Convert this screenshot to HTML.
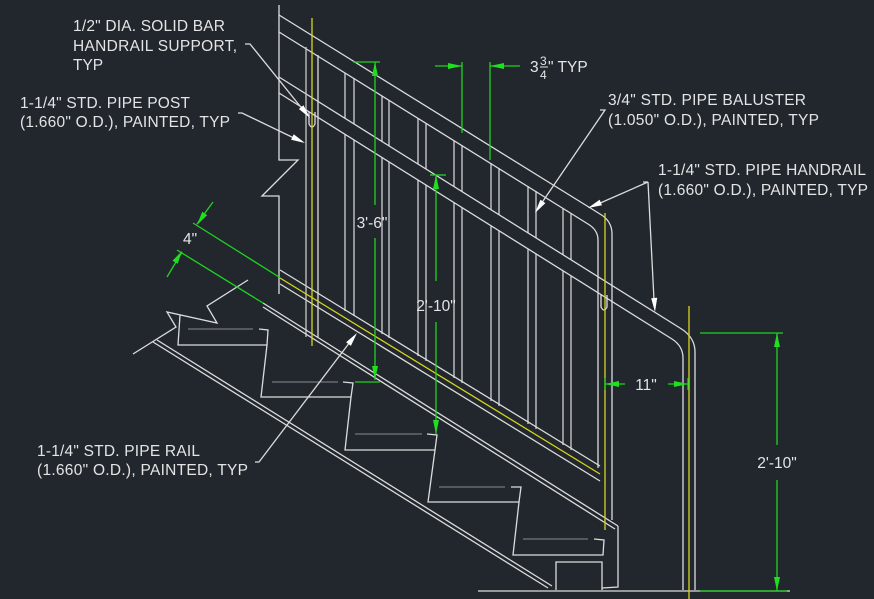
<!DOCTYPE html>
<html><head><meta charset="utf-8"><style>
html,body{margin:0;padding:0;background:#22272e;}
svg{display:block}
text{font-family:"Liberation Sans",sans-serif;font-size:15.5px;fill:#e4e4e4}
</style></head><body>
<svg width="874" height="599" viewBox="0 0 874 599" xmlns="http://www.w3.org/2000/svg">
<rect width="874" height="599" fill="#22272e"/>
<g stroke="#dcdcdc" stroke-width="1.3" fill="none">
<!-- balusters -->
<g stroke="#d0d0d0">
<line x1="345" y1="73" x2="345" y2="311"/><line x1="354" y1="78" x2="354" y2="316"/>
<line x1="382" y1="96" x2="382" y2="334"/><line x1="389" y1="100" x2="389" y2="338"/>
<line x1="418" y1="118" x2="418" y2="356"/><line x1="426" y1="123" x2="426" y2="361"/>
<line x1="454" y1="141" x2="454" y2="378"/><line x1="462" y1="146" x2="462" y2="383"/>
<line x1="491" y1="163" x2="491" y2="401"/><line x1="499" y1="168" x2="499" y2="406"/>
<line x1="528" y1="186" x2="528" y2="424"/><line x1="536" y1="191" x2="536" y2="429"/>
<line x1="563" y1="208" x2="563" y2="445"/><line x1="571" y1="213" x2="571" y2="450"/>
</g>
<!-- mid rail mask -->
<polygon points="279,77 680,328 672,339 279,93" fill="#22272e" stroke="none"/>
<!-- top rail -->
<path d="M279,15 L600,214 Q612,221 612,234 L612,520"/>
<path d="M279,32 L588,224 Q598,230 598,240 L598,468"/>
<!-- mid rail -->
<path d="M279,77 L680,328 Q695,337 695,352 L695,590"/>
<path d="M279,93 L672,339 Q683,346 683,358 L683,590"/>
<!-- bottom rail -->
<line x1="280" y1="270" x2="600" y2="466"/>
<line x1="280" y1="284" x2="600" y2="481"/>
<!-- wall break -->
<polyline points="279,5 279,160 298,160 262,196 279,196 279,294"/>
<!-- left post -->
<line x1="306" y1="47" x2="306" y2="337" stroke="#c8c8c8"/>
<line x1="318" y1="55" x2="318" y2="337"/>
<path d="M309,112 L309,124 Q312,130 315,124 L315,112"/>
<path d="M601,295 L601,307 Q604,313 607,307 L607,295"/>
<!-- stringers -->
<line x1="263" y1="303" x2="618" y2="526"/>
<line x1="263" y1="307" x2="615" y2="529"/>
<line x1="153" y1="342" x2="548" y2="588"/>
<line x1="157" y1="340" x2="552" y2="586"/>
<polyline points="618,526 618,587 602,588"/>
<polyline points="556,590 556,562 602,562 602,590"/>
<line x1="478" y1="591" x2="790" y2="591"/>
<polyline points="133,354 176,327 167,312 217,323 207,306 248,280"/>
<!-- steps -->
<polyline points="180,315 178,345 267,345 268,330 259,329"/>
<polyline points="267,345 261,397 351,397 353,383 343,382"/>
<polyline points="351,397 345,450 435,450 437,435 427,434"/>
<polyline points="435,450 428,502 519,502 521,487 511,487"/>
<polyline points="519,502 513,555 603,555 604,540 594,539"/>
<g stroke="#8a8a8a" stroke-width="1">
<line x1="188" y1="329" x2="253" y2="329"/><line x1="272" y1="382" x2="338" y2="382"/>
<line x1="355" y1="434" x2="422" y2="434"/><line x1="439" y1="487" x2="505" y2="487"/>
<line x1="523" y1="539" x2="588" y2="539"/>
</g>
<!-- leaders -->
<polyline points="245,44 250,44 304,111"/>
<polyline points="238,113 242,113 296,139"/>
<polyline points="600,110 605,110 541,204"/>
<polyline points="643,182 648,182 598,204"/>
<polyline points="648,182 654,300"/>
<polyline points="255,462 259,462 350,342"/>
</g>
<g fill="#ffffff">
<polygon points="310,118 298.9,109 303.5,105.2"/>
<polygon points="305,143 291.1,139.7 293.7,134.3"/>
<polygon points="535,213 540.4,199.7 545.4,203.1"/>
<polygon points="588,208 599.6,199.7 602,205.2"/>
<polygon points="655,312 651.2,298.2 657.2,297.8"/>
<polygon points="357,333 350.9,345.9 346.1,342.3"/>
</g>
<!-- yellow centerlines -->
<g stroke="#d6d41e" stroke-width="1.3">
<line x1="312" y1="18" x2="312" y2="346"/>
<line x1="605" y1="213" x2="605" y2="530"/>
<line x1="689" y1="306" x2="689" y2="599"/>
<line x1="280" y1="278" x2="600" y2="474"/>
</g>
<!-- dimensions -->
<g stroke="#1fd21f" stroke-width="1.3" fill="none">
<line x1="353" y1="62" x2="380" y2="62"/><line x1="375" y1="62" x2="375" y2="205"/><line x1="375" y1="238" x2="375" y2="380"/><line x1="355" y1="382" x2="380" y2="382"/>
<line x1="430" y1="175" x2="446" y2="175"/><line x1="436" y1="175" x2="436" y2="281"/><line x1="436" y1="322" x2="436" y2="434"/>
<line x1="462" y1="62" x2="462" y2="133"/><line x1="490" y1="62" x2="490" y2="160"/>
<line x1="435" y1="66" x2="462" y2="66"/><line x1="490" y1="66" x2="520" y2="66"/>
<line x1="605" y1="378" x2="605" y2="390"/><line x1="688" y1="378" x2="688" y2="390"/>
<line x1="605" y1="384" x2="625" y2="384"/><line x1="668" y1="384" x2="688" y2="384"/>
<line x1="700" y1="333" x2="783" y2="333"/><line x1="700" y1="591" x2="787" y2="591"/>
<line x1="777" y1="333" x2="777" y2="445"/><line x1="777" y1="480" x2="777" y2="591"/>
<line x1="193" y1="223" x2="279" y2="277"/><line x1="177" y1="250" x2="263" y2="303"/>
<line x1="213" y1="202" x2="197" y2="224"/><line x1="167" y1="277" x2="182" y2="252"/>
</g>
<g fill="#1fe01f">
<polygon points="375,62 372,76 378,76"/><polygon points="375,380 372,366 378,366"/>
<polygon points="436,175 433,189 439,189"/><polygon points="436,434 433,420 439,420"/>
<polygon points="777,333 774,347 780,347"/><polygon points="777,591 774,577 780,577"/>
<polygon points="462,66 448,63 448,69"/><polygon points="490,66 504,63 504,69"/>
<polygon points="605,384 619,381 619,387"/><polygon points="688,384 674,381 674,387"/>
<polygon points="197,225 207.2,215.1 202.2,211.8"/><polygon points="182,251 177.7,263.7 172.5,260.7"/>
</g>
<!-- text -->
<text x="73" y="31" textLength="152">1/2" DIA. SOLID BAR</text>
<text x="73" y="51" textLength="164">HANDRAIL SUPPORT,</text>
<text x="73" y="70">TYP</text>
<text x="20" y="108" textLength="170">1-1/4" STD. PIPE POST</text>
<text x="20" y="127" textLength="210">(1.660" O.D.), PAINTED, TYP</text>
<text x="608" y="105" textLength="198">3/4" STD. PIPE BALUSTER</text>
<text x="608" y="125" textLength="211">(1.050" O.D.), PAINTED, TYP</text>
<text x="658" y="175" textLength="208">1-1/4" STD. PIPE HANDRAIL</text>
<text x="658" y="195" textLength="210">(1.660" O.D.), PAINTED, TYP</text>
<text x="37" y="456" textLength="163">1-1/4" STD. PIPE RAIL</text>
<text x="37" y="475" textLength="211">(1.660" O.D.), PAINTED, TYP</text>
<text x="372" y="228" text-anchor="middle">3'-6"</text>
<text x="436" y="311" text-anchor="middle">2'-10"</text>
<text x="777" y="468" text-anchor="middle">2'-10"</text>
<text x="646" y="390" text-anchor="middle">11"</text>
<text x="183" y="244">4"</text>
<text x="530" y="72">3</text>
<text x="540" y="65" style="font-size:12px">3</text>
<line x1="540" y1="67" x2="548" y2="67" stroke="#e4e4e4" stroke-width="1"/>
<text x="540" y="79" style="font-size:12px">4</text>
<text x="548" y="72">" TYP</text>
</svg>
</body></html>
